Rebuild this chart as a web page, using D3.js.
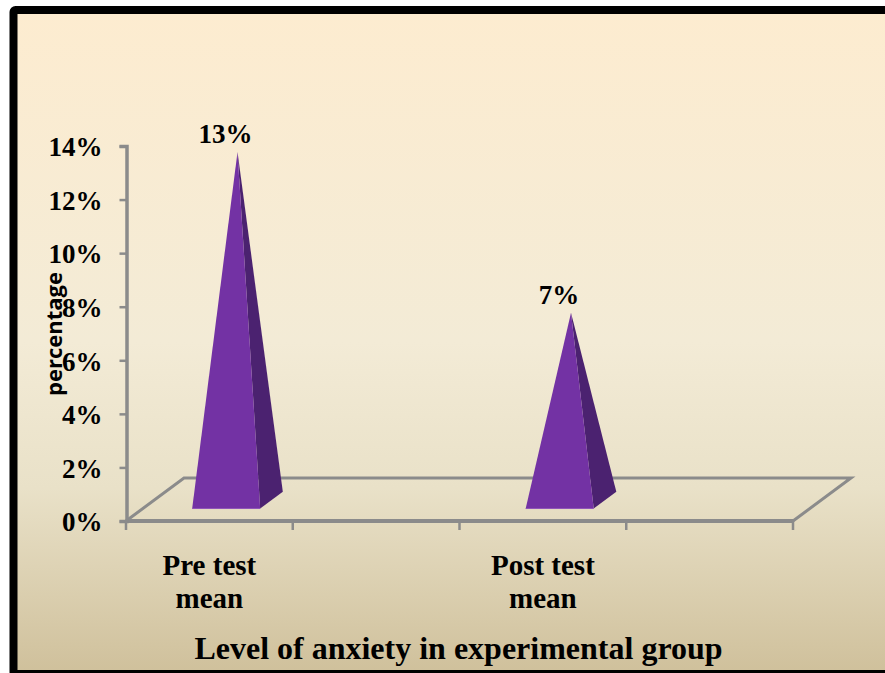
<!DOCTYPE html>
<html><head><meta charset="utf-8">
<script src="https://cdn.jsdelivr.net/npm/d3@7"></script>
<style>html,body{margin:0;padding:0;background:#fff}svg{display:block}</style></head>
<body><svg id="c" width="885" height="673"></svg>
<script>
const categories = ["Pre test|mean", " ", "Post test|mean", "  "];
const barCategories = ["Pre test|mean", "Post test|mean"];
const seriesValues = [13, 7];
const dataLabels = ["13%", "7%"];
const yTicks = [0, 2, 4, 6, 8, 10, 12, 14];
const xTitle = "Level of anxiety in experimental group";
const yTitle = "percentage";

const svg = d3.select("#c");
const defs = svg.append("defs");
const g = defs.append("linearGradient").attr("id","bg").attr("x1",0).attr("y1",0).attr("x2",0).attr("y2",1);
[[0,"#fdecd0"],[0.5,"#f3ebd6"],[0.72,"#e9e1c8"],[1,"#cfc09b"]].forEach(([o,c])=>g.append("stop").attr("offset",o).attr("stop-color",c));

svg.append("rect").attr("x",13.5).attr("y",10).attr("width",880).attr("height",664)
  .attr("rx",2).attr("fill","url(#bg)").attr("stroke","#000").attr("stroke-width",8);

const x = d3.scaleBand().domain(categories).range([126,793]).padding(0);
const y = d3.scaleLinear().domain([0,14]).range([521,146]);
const serif = "'Liberation Serif','Times New Roman',serif";
const axisC = "#8b8b8b";
const depthX = 58, depthY = 43;
const halfW = 34, nearF = 0.29, farF = 0.68;

// floor
const floor = svg.append("g").attr("fill","none").attr("stroke",axisC);
floor.append("path").attr("stroke-width",3)
  .attr("d",d3.line()([[x.range()[0],y(0)],[x.range()[0]+depthX,y(0)-depthY],[x.range()[1]+depthX,y(0)-depthY],[x.range()[1],y(0)]]));
floor.append("line").attr("stroke-width",4).attr("x1",x.range()[0]).attr("x2",x.range()[1]).attr("y1",y(0)).attr("y2",y(0));

// y axis
const yAxis = svg.append("g").attr("transform",`translate(126.5,0)`)
  .call(d3.axisLeft(y).tickValues(yTicks).tickSize(7).tickPadding(17).tickFormat(d=>d+"%"));
yAxis.select(".domain").attr("stroke",axisC).attr("stroke-width",3.5);
yAxis.selectAll(".tick line").attr("stroke",axisC).attr("stroke-width",2.5);
yAxis.selectAll("text").attr("font-family",serif).attr("font-weight","bold").attr("font-size",27).attr("fill","#000").attr("dy","0.36em");

// x axis ticks + labels
const edges = categories.map(c=>x(c)).concat(x.range()[1]);
svg.append("g").selectAll("line").data(edges).join("line")
  .attr("x1",d=>d).attr("x2",d=>d).attr("y1",y(0)).attr("y2",y(0)+9)
  .attr("stroke",axisC).attr("stroke-width",2.5);
svg.append("g").selectAll("text").data(barCategories).join("text")
  .attr("text-anchor","middle").attr("font-family",serif).attr("font-weight","bold").attr("font-size",29).attr("fill","#000")
  .each(function(d){
    const cx = x(d)+x.bandwidth()/2;
    d3.select(this).selectAll("tspan").data(d.split("|")).join("tspan")
      .attr("x",cx).attr("y",(t,i)=>574.5+i*33.5).text(t=>t);
  });

// pyramids
const bars = svg.append("g").selectAll("g").data(barCategories.map((c,i)=>({c,v:seriesValues[i],l:dataLabels[i]}))).join("g");
const line = d3.line();
bars.each(function(d){
  const s = d3.select(this);
  const cx = x(d.c)+x.bandwidth()/2;
  const base = y(0);
  const fx = cx+depthX*nearF, fy = base-depthY*nearF;
  const bx = cx+depthX*farF, by = base-depthY*farF;
  const mid = (nearF+farF)/2;
  const ax = cx+depthX*mid, ay = y(d.v)-depthY*mid;
  s.append("path").attr("fill","#4b2270").attr("d",line([[fx+halfW,fy],[bx+halfW,by],[ax,ay]])+"Z");
  s.append("path").attr("fill","#7332a4").attr("d",line([[fx-halfW,fy],[fx+halfW,fy],[ax,ay]])+"Z");
  s.append("line").attr("x1",fx-halfW).attr("x2",fx+halfW).attr("y1",fy).attr("y2",fy).attr("stroke","#8f55b8").attr("stroke-width",1);
  s.append("text").attr("x",ax-12).attr("y",ay-9).attr("text-anchor","middle")
    .attr("font-family",serif).attr("font-weight","bold").attr("font-size",27).attr("fill","#000").text(d.l);
});

// titles
svg.append("text").attr("x",458.5).attr("y",659).attr("text-anchor","middle")
  .attr("font-family",serif).attr("font-weight","bold").attr("font-size",32).attr("fill","#000").text(xTitle);
svg.append("text").attr("transform","translate(62,334) rotate(-90)").attr("text-anchor","middle")
  .attr("font-family","'Open Sans',sans-serif").attr("font-weight","bold").attr("font-size",22).attr("fill","#000")
  .text(yTitle);
</script></body></html>
